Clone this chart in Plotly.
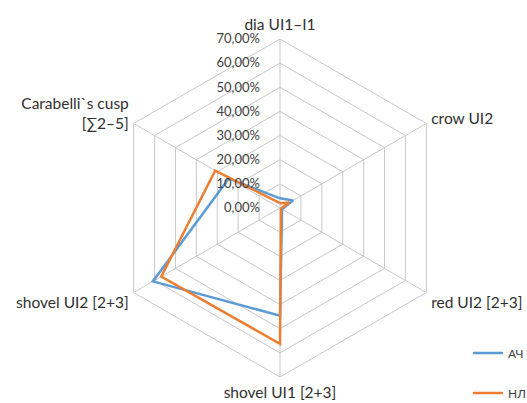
import plotly.graph_objects as go

# Axis categories, clockwise from the top
categories = [
    "dia UI1–I1",
    "crow UI2",
    "red UI2 [2+3]",
    "shovel UI1 [2+3]",
    "shovel UI2 [2+3]",
    "Carabelli`s cusp<br>[∑2–5]",
]

# Frequencies per group (fractions)
ach_values = [0.040, 0.063, 0.010, 0.446, 0.608, 0.245]
nl_values = [0.020, 0.045, 0.005, 0.563, 0.568, 0.310]

radial_ticks = [0.0, 0.1, 0.2, 0.3, 0.4, 0.5, 0.6, 0.7]

BLUE = "#5B9BD5"
ORANGE = "#ED7D31"
GRID = "#C8C8C8"
FONT = "Lato"


def closed(values):
    return values + values[:1]


fig = go.Figure()
fig.add_trace(go.Scatterpolar(
    r=closed(ach_values), theta=closed(categories), mode="lines",
    name="АЧ", legendgroup="a",
    line=dict(color=BLUE, width=2.5),
))
fig.add_trace(go.Scatterpolar(
    r=closed(nl_values), theta=closed(categories), mode="lines",
    name="НЛ", legendgroup="b",
    line=dict(color=ORANGE, width=2.5),
))

fig.update_layout(
    width=527, height=403,
    margin=dict(l=0, r=0, t=0, b=0, autoexpand=False),
    paper_bgcolor="white",
    plot_bgcolor="white",
    separators=", ",
    font=dict(family=FONT, size=13, color="#404040"),
    polar=dict(
        domain=dict(x=[111 / 527, 449 / 527], y=[1 - 377 / 403, 1 - 39 / 403]),
        bgcolor="white",
        gridshape="linear",
        angularaxis=dict(
            rotation=90, direction="clockwise",
            showline=True, linecolor=GRID, linewidth=1,
            gridcolor=GRID, gridwidth=1,
            ticks="outside", ticklen=2, tickcolor="rgba(0,0,0,0)",
            tickfont=dict(family=FONT, size=15.5, color="#303030"),
        ),
        radialaxis=dict(
            range=[0, 0.7], tickvals=radial_ticks, tickformat=".2%",
            angle=90, tickangle=90, side="counterclockwise",
            showline=False, gridcolor=GRID, gridwidth=1,
            ticks="outside", ticklen=15, tickcolor="rgba(0,0,0,0)",
            tickfont=dict(family=FONT, size=13, color="#404040"),
        ),
    ),
    legend=dict(
        x=0.888, y=0.16, xanchor="left", yanchor="top",
        tracegroupgap=21, bgcolor="rgba(0,0,0,0)",
        font=dict(family=FONT, size=12, color="#404040"),
    ),
)

fig.write_html("out.html")
